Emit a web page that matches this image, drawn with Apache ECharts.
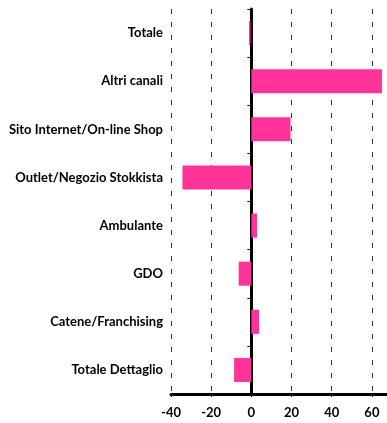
<!DOCTYPE html>
<html>
<head>
<meta charset="utf-8">
<script src="https://cdn.jsdelivr.net/npm/echarts@6/dist/echarts.min.js"></script>
<style>
  html, body { margin: 0; padding: 0; background: #fff; }
  #chart { width: 387px; height: 423px; }
</style>
</head>
<body>
<div id="chart"></div>
<script>
// categories listed bottom -> top
const categories = [
  'Totale Dettaglio',
  'Catene/Franchising',
  'GDO',
  'Ambulante',
  'Outlet/Negozio Stokkista',
  'Sito Internet/On-line Shop',
  'Altri canali',
  'Totale'
];
const values = [-8.6, 3.8, -6.3, 2.8, -34.3, 19.5, 65, -1];
const xTicks = [-40, -20, 0, 20, 40, 60];

const PINK = '#ff3399';
const DARK = '#8a005f';

const chart = echarts.init(document.getElementById('chart'));

const option = {
  animation: false,
  textStyle: { fontFamily: 'Lato' },
  grid: { left: 171, right: -5, top: 9, bottom: 29, outerBoundsMode: 'none', containLabel: false },
  xAxis: {
    type: 'value',
    min: -40,
    max: 70,
    interval: 20,
    axisLine: { show: true, onZero: false, lineStyle: { color: '#000', width: 3 } },
    axisTick: { show: true, length: 3, lineStyle: { color: '#000' } },
    axisLabel: {
      color: '#000',
      fontWeight: 'bold',
      fontSize: 13,
      margin: 12,
      formatter: (v) => (xTicks.indexOf(v) >= 0 ? String(v) : '')
    },
    splitLine: {
      show: true,
      lineStyle: { color: '#333', width: 1, type: [5, 8] }
    }
  },
  yAxis: [
    {
      type: 'category',
      data: categories,
      axisLine: { show: false, onZero: false },
      axisTick: { show: false },
      axisLabel: { color: '#000', fontWeight: 'bold', fontSize: 13, margin: 8 }
    },
    {
      type: 'category',
      data: categories,
      position: 'left',
      axisLine: { show: true, onZero: true, lineStyle: { color: '#000', width: 3 } },
      axisTick: { show: true, length: 4, lineStyle: { color: '#000', width: 1 } },
      axisLabel: { show: false }
    }
  ],
  series: [
    {
      type: 'bar',
      yAxisIndex: 0,
      barWidth: '50%',
      data: values.map((v, i) => ({
        value: v,
        itemStyle: { color: categories[i] === 'Totale' ? DARK : PINK }
      }))
    }
  ]
};

chart.setOption(option);
</script>
</body>
</html>
